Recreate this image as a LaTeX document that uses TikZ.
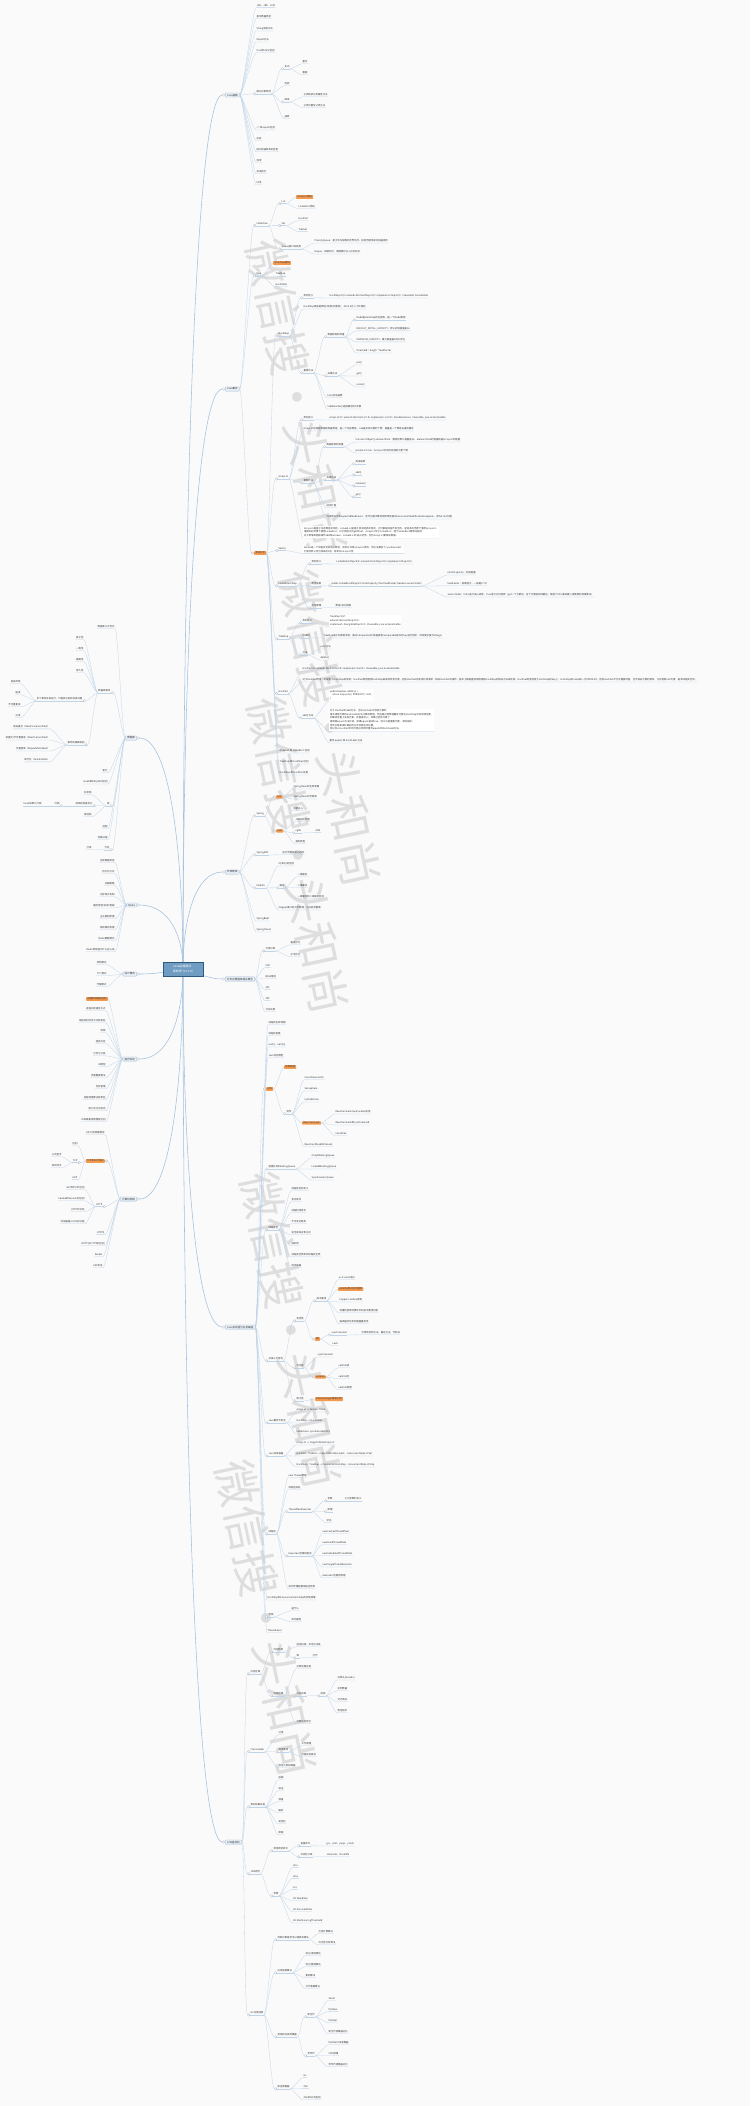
\documentclass[tikz,border=0pt]{standalone}
\usepackage{fontspec}
\setmainfont{Noto Sans CJK SC}
\usetikzlibrary{calc}
\pgfdeclarelayer{back}
\pgfdeclarelayer{lines}
\pgfsetlayers{back,lines,main}
\definecolor{bgc}{HTML}{FAFAFA}
\definecolor{txt}{HTML}{3A3A3A}
\definecolor{lnc}{HTML}{BFD4E8}
\definecolor{trc}{HTML}{A3C1DD}
\definecolor{orc}{HTML}{F49A4E}
\definecolor{bxf}{HTML}{EBF1F7}
\definecolor{bxl}{HTML}{9EBBD6}
\definecolor{cenf}{HTML}{6F9CC2}
\definecolor{cenl}{HTML}{2E5A80}
\definecolor{cic}{HTML}{A8B4C0}
\definecolor{wmc}{HTML}{DEDEDE}
\newcommand\ftx{\fontsize{2.4}{2.9}\selectfont}
\newcommand\fnote{\fontsize{2.4}{3.6}\selectfont}
\newcommand\fbx{\fontsize{2.6}{3.1}\selectfont}
\newcommand\fcen{\fontsize{3}{4.4}\selectfont}
\newcommand\fwm{\fontsize{46}{46}\selectfont}
\tikzset{
 tx/.style={font=\ftx, text=txt, inner xsep=0.4pt, inner ysep=0.5pt, anchor=west},
 txl/.style={tx, anchor=east},
 orn/.style={tx, fill=orc, rounded corners=0.6pt, inner xsep=1.2pt, inner ysep=0.7pt},
 orl/.style={orn, anchor=east},
 nb/.style={tx, fill=white, align=left, inner sep=0.8pt, font=\fnote},
 bx/.style={font=\fbx, text=txt, fill=bxf, draw=bxl, line width=0.3pt, rounded corners=0.8pt, inner xsep=1.8pt, inner ysep=0.9pt},
 cen/.style={font=\fcen, text=white, fill=cenf, draw=cenl, line width=0.6pt, align=left, minimum width=40pt, minimum height=13pt, inner xsep=4pt},
 lnk/.style={draw=lnc, line width=0.3pt},
 trunk/.style={draw=trc, line width=0.55pt},
 cir/.style={draw=cic, fill=white, line width=0.25pt},
 wm/.style={font=\fwm, text=wmc, inner sep=0pt, rotate=-78},
}
% right side connectors
\newcommand\cnR[2]{\draw[lnk] (#1) .. controls +(3,0) and +(-3,0) .. (#2.south west) -- (#2.south east);}
\newcommand\cnRc[2]{\draw[lnk] (#1) .. controls +(3,0) and +(-3,0) .. ([xshift=-2.6pt]#2.south west); \draw[lnk] (#2.south west) -- (#2.south east); \draw[cir] ([xshift=-1.3pt]#2.south west) circle (1.3pt);}
\newcommand\cnRo[2]{\draw[lnk] (#1) .. controls +(3,0) and +(-3,0) .. (#2.west);}
\newcommand\cnRoc[2]{\draw[lnk] (#1) .. controls +(3,0) and +(-3,0) .. ([xshift=-2.6pt]#2.west); \draw[cir] ([xshift=-1.3pt]#2.west) circle (1.3pt);}
% left side connectors
\newcommand\cnL[2]{\draw[lnk] (#1) .. controls +(-3,0) and +(3,0) .. (#2.south east) -- (#2.south west);}
\newcommand\cnLc[2]{\draw[lnk] (#1) .. controls +(-3,0) and +(3,0) .. ([xshift=2.6pt]#2.south east); \draw[lnk] (#2.south east) -- (#2.south west); \draw[cir] ([xshift=1.3pt]#2.south east) circle (1.3pt);}
\newcommand\cnLo[2]{\draw[lnk] (#1) .. controls +(-3,0) and +(3,0) .. (#2.east);}
\newcommand\cnLoc[2]{\draw[lnk] (#1) .. controls +(-3,0) and +(3,0) .. ([xshift=2.6pt]#2.east); \draw[cir] ([xshift=1.3pt]#2.east) circle (1.3pt);}
\newcommand\wmtext{微信搜·头和尚}
\begin{document}
\begin{tikzpicture}[x=1pt,y=-1pt]
\useasboundingbox (0,0) rectangle (750,2106);
\begin{pgfonlayer}{back}
\fill[bgc] (0,0) rectangle (750,2106);
\node[wm] (w1) at (297,397) {\wmtext};
\node[wm] (w2) at (330,728) {\wmtext};
\node[wm] (w3) at (298,855) {\wmtext};
\node[wm] (w4) at (291,1330) {\wmtext};
\node[wm] (w5) at (266,1618) {\wmtext};
\end{pgfonlayer}

% central
\node[cen] (C) at (183,969) {Java后端面试\\架构师 (V1.0.0)};

% first level
\node[bx, anchor=west] (R1) at (225,95) {Java基础};
\node[bx, anchor=west] (R2) at (225,389) {Java集合};
\node[bx, anchor=west] (R3) at (225,872) {开源框架};
\node[bx, anchor=west] (R4) at (225,979) {分布式数据库相关概念};
\node[bx, anchor=west] (R5) at (225,1327) {Java多线程与并发编程};
\node[bx, anchor=west] (R6) at (225,1842) {JVM虚拟机};
\node[bx, anchor=east] (L1) at (137,738) {数据库};
\node[bx, anchor=east] (L2) at (137,905) {Redis};
\node[bx, anchor=east] (L3) at (137,974) {设计模式};
\node[bx, anchor=east] (L4) at (137,1059) {操作系统};
\node[bx, anchor=east] (L5) at (137,1199) {计算机网络};

% R1
\node[tx] (a1) at (256,6) {JDK、JRE、JVM};
\node[tx] (a2) at (256,17) {基本数据类型};
\node[tx] (a3) at (256,29) {String常用方法};
\node[tx] (a4) at (256,40) {Object方法};
\node[tx] (a5) at (256,51) {final和static区别};
\node[tx] (a6) at (256,92) {面向对象特性};
\node[tx] (a61) at (284,67) {多态};
\node[tx] (a611) at (302,62) {重写};
\node[tx] (a612) at (302,73) {重载};
\node[tx] (a62) at (284,84) {封装};
\node[tx] (a63) at (284,100) {继承};
\node[tx] (a631) at (303,95) {子类继承父类属性方法};
\node[tx] (a632) at (303,106) {子类可重写父类方法};
\node[tx] (a64) at (284,117) {抽象};
\node[tx] (a7) at (256,128) {== 和 equals区别};
\node[tx] (a8) at (256,139) {反射};
\node[tx] (a9) at (256,150) {接口和抽象类的区别};
\node[tx] (a10) at (256,161) {异常};
\node[tx] (a11) at (256,172) {深浅拷贝};
\node[tx] (a12) at (256,183) {IO流};

% R2
\node[tx] (b1) at (256,224) {Collection};
\node[tx] (b11) at (281,202) {List};
\node[orn] (b111) at (296,197) {ArrayList源码};
\node[tx] (b112) at (298,207) {LinkedList源码};
\node[tx] (b12) at (281,224) {Set};
\node[tx] (b121) at (298,219) {HashSet};
\node[tx] (b122) at (298,230) {TreeSet};
\node[tx] (b13) at (281,247) {Queue接口实现类};
\node[tx] (b131) at (314,241) {PriorityQueue：基于优先级堆的无界队列，按自然顺序或比较器排序};
\node[tx] (b132) at (314,252) {Deque：双端队列，两端都可以入队和出队};
\node[tx] (b2) at (256,274) {Map};
\node[orn] (b21) at (273,263) {HashMap源码};
\node[tx] (b22) at (275,274) {TreeMap};
\node[tx] (b23) at (275,285) {Hashtable};
\node[orn] (b3) at (254,553) {源码分析};

\node[tx] (c1) at (278,334) {HashMap};
\node[tx] (c11) at (303,296) {类的定义};
\node[tx] (c111) at (329,296) {HashMap<K,V> extends AbstractMap<K,V> implements Map<K,V>, Cloneable, Serializable};
\node[tx] (c12) at (303,307) {HashMap底层是数组+链表(红黑树)，JDK1.8引入了红黑树};
\node[tx] (c13) at (303,371) {重要方法};
\node[tx] (c131) at (327,335) {数据结构和常量};
\node[tx] (c1311) at (356,318) {Node是HashMap的内部类，是一个Node数组};
\node[tx] (c1312) at (356,329) {DEFAULT\_INITIAL\_CAPACITY：默认初始容量是16};
\node[tx] (c1313) at (356,340) {MAXIMUM\_CAPACITY：最大容量是2的30次方};
\node[tx] (c1314) at (356,351) {threshold = length * loadFactor};
\node[tx] (c132) at (327,374) {关键方法};
\node[tx] (c1321) at (356,363) {put()};
\node[tx] (c1322) at (356,374) {get()};
\node[tx] (c1323) at (356,385) {resize()};
\node[tx] (c133) at (327,396) {hash扰动函数};
\node[tx] (c134) at (327,407) {tableSizeFor()返回最近的2次幂};

\node[tx] (c2) at (278,477) {ArrayList};
\node[tx] (c21) at (303,418) {类的定义};
\node[tx] (c211) at (329,418) {ArrayList<E> extends AbstractList<E> implements List<E>, RandomAccess, Cloneable, java.io.Serializable};
\node[tx] (c22) at (303,429) {ArrayList的底层数据结构是数组，是一个动态数组，size是实际元素的个数，容量是一个数组长度的概念};
\node[tx] (c23) at (303,481) {重要方法};
\node[tx] (c231) at (326,445) {数据结构和常量};
\node[tx] (c2311) at (355,440) {transient Object[] elementData：数组的默认容量是10，elementData的容量就是ArrayList的容量};
\node[tx] (c2312) at (355,451) {private int size：ArrayList中实际存储的元素个数};
\node[tx] (c232) at (326,478) {关键方法};
\node[tx] (c2321) at (355,462) {构造函数};
\node[tx] (c2322) at (355,473) {add()};
\node[tx] (c2323) at (355,484) {remove()};
\node[tx] (c2324) at (355,495) {get()};
\node[tx] (c233) at (326,506) {动态扩容};
\node[tx] (c234) at (326,517) {内部类Itr中有expectedModCount，迭代过程中集合被修改会抛出ConcurrentModificationException，即fail-fast机制};
\node[nb] (c24) at (303,532) {ArrayList是基于动态数组实现的，LinkedList是基于双向链表实现的，它们都是线程不安全的，查询多的场景下使用ArrayList，\\增删多的场景下使用LinkedList；对于随机访问get和set，ArrayList优于LinkedList，因为LinkedList要移动指针；\\对于新增和删除操作add和remove，LinkedList比较占优势，因为ArrayList要移动数据。};

\node[tx] (c3) at (278,549) {Vector};
\node[nb] (c31) at (303,549.5) {Vector是一个线程安全的动态数组，实现方式和ArrayList类似，但方法都加了synchronized，\\扩容时默认变为原来的2倍，效率比ArrayList低};

\node[tx] (c4) at (278,584) {LinkedHashMap};
\node[tx] (c41) at (311,562) {类的定义};
\node[tx] (c411) at (336,562) {LinkedHashMap<K,V> extends HashMap<K,V> implements Map<K,V>};
\node[tx] (c42) at (311,584) {构造函数};
\node[tx] (c421) at (331,584) {public LinkedHashMap(int initialCapacity, float loadFactor, boolean accessOrder)};
\node[tx] (c4211) at (447,573) {initialCapacity：初始容量};
\node[tx] (c4212) at (447,584) {loadFactor：加载因子，一般是0.75f};
\node[tx] (c4213) at (447,595) {accessOrder：false 基于插入顺序，true 基于访问顺序（get一个元素后，这个元素被加到最后，使用了LRU 最近最少被使用的调度算法）};
\node[tx] (c43) at (311,606) {实现原理};
\node[tx] (c431) at (335,606) {数组+双向链表};

\node[tx] (c5) at (278,637) {TreeMap};
\node[tx] (c51) at (302,621) {类的定义};
\node[nb] (c511) at (329,621) {TreeMap<K,V>\\extends AbstractMap<K,V>\\implements NavigableMap<K,V>, Cloneable, java.io.Serializable};
\node[tx] (c52) at (302,636) {红黑树};
\node[tx] (c521) at (323,636) {TreeMap基于红黑树实现，通过Comparator比较器或者Comparable接口对key进行排序，时间复杂度为O(logn)};
\node[tx] (c53) at (302,653) {方法};
\node[tx] (c531) at (320,647) {put()方法};
\node[tx] (c532) at (320,658) {delete()};

\node[tx] (c6) at (278,692) {HashSet};
\node[tx] (c61) at (302,669) {HashSet<E> extends AbstractSet<E> implements Set<E>, Cloneable, java.io.Serializable};
\node[tx] (c62) at (302,680) {对于HashSet而言，它是基于HashMap实现的，HashSet底层使用HashMap来保存所有元素，因此HashSet的实现比较简单，相关HashSet的操作，基本上都是直接调用底层HashMap的相关方法来完成。HashSet的值存放于HashMap的key上，HashMap的value统一为PRESENT，因此HashSet不允许重复的值，也不保证元素的顺序，允许使用null元素，是非线程安全的。};
\node[tx] (c63) at (302,716) {add()方法};
\node[nb] (c631) at (329,695) {public boolean add(E e) \{\\\quad return map.put(e, PRESENT)==null;\\\}};
\node[nb] (c632) at (329,720) {对于HashSet的add方法，当向HashSet中添加元素时，\\首先调用元素的hashCode方法计算哈希值，然后通过哈希值确定元素在HashMap中的存储位置，\\如果该位置上没有元素，则直接存入；如果已经有元素了，\\再调用equals方法比较，如果equals返回true，则认为是重复元素，添加失败；\\否则以链表或红黑树的方式存储在该位置，\\所以存入HashSet中的元素必须同时重写equals和hashCode方法。};
\node[tx] (c633) at (329,741) {重写 equals 和 hashCode 方法};
\node[tx] (c7) at (279,751) {ArrayList 和 LinkedList 区别};
\node[tx] (c8) at (279,762) {TreeMap 和 HashMap 区别};
\node[tx] (c9) at (279,773) {HashMap 和 HashSet 区别};

% R3
\node[tx] (d1) at (256,814) {Spring};
\node[orn] (d11) at (276,797) {IOC};
\node[tx] (d111) at (293,787) {Spring Bean的生命周期};
\node[tx] (d112) at (293,797) {Spring Bean的作用域};
\node[tx] (d113) at (293,809) {依赖注入};
\node[orn] (d12) at (276,831) {AOP};
\node[tx] (d121) at (295,820) {JDK动态代理};
\node[tx] (d122) at (295,831) {cglib};
\node[tx] (d1221) at (315,831) {ASM};
\node[tx] (d123) at (295,842) {通知类型};
\node[tx] (d2) at (256,853) {SpringMVC};
\node[tx] (d21) at (282,853) {执行流程及核心组件};
\node[tx] (d3) at (256,886) {Mybatis};
\node[tx] (d31) at (278,864) {\#\{\}和\$\{\}的区别};
\node[tx] (d32) at (279,886) {缓存};
\node[tx] (d321) at (297,875) {一级缓存};
\node[tx] (d322) at (297,886) {二级缓存};
\node[tx] (d323) at (297,897) {一级缓存和二级缓存区别};
\node[tx] (d33) at (278,908) {Mapper接口的工作原理，方法能否重载};
\node[tx] (d4) at (256,919) {SpringBoot};
\node[tx] (d5) at (256,930) {SpringCloud};

% R4
\node[tx] (e1) at (265,949) {分库分表};
\node[tx] (e11) at (290,943) {垂直拆分};
\node[tx] (e12) at (290,955) {水平拆分};
\node[tx] (e2) at (265,966) {CAP};
\node[tx] (e3) at (265,977) {BASE理论};
\node[tx] (e4) at (265,988) {2PC};
\node[tx] (e5) at (265,999) {3PC};
\node[tx] (e6) at (265,1010) {分布式锁};

% R5
\node[tx] (f1) at (268,1023) {线程的生命周期};
\node[tx] (f2) at (268,1034) {线程的创建};
\node[tx] (f3) at (268,1045) {wait()、notify()};
\node[tx] (f4) at (268,1056) {Java内存模型};
\node[orn] (f5) at (266,1089) {AQS};
\node[orn] (f51) at (284,1067) {实现原理};
\node[tx] (f52) at (286,1112) {组件};
\node[tx] (f521) at (304,1078) {CountDownLatch};
\node[tx] (f522) at (304,1089) {Semaphore};
\node[tx] (f523) at (304,1100) {CyclicBarrier};
\node[orn] (f524) at (302,1123) {ReentrantLock};
\node[tx] (f5241) at (335,1112) {ReentrantLock lock/unlock实现};
\node[tx] (f5242) at (335,1123) {ReentrantLock和synchronized};
\node[tx] (f5243) at (335,1134) {Condition};
\node[tx] (f525) at (304,1145) {ReentrantReadWriteLock};
\node[tx] (f6) at (268,1167) {阻塞队列BlockingQueue};
\node[tx] (f61) at (311,1156) {ArrayBlockingQueue};
\node[tx] (f62) at (311,1167) {LinkedBlockingQueue};
\node[tx] (f63) at (311,1178) {SynchronousQueue};
\node[tx] (f7) at (268,1228) {线程安全};
\node[tx] (f71) at (291,1189) {线程安全的定义};
\node[tx] (f72) at (291,1200) {竞态条件};
\node[tx] (f73) at (291,1211) {线程封闭技术};
\node[tx] (f74) at (291,1222) {不可变对象类};
\node[tx] (f75) at (291,1233) {安全发布对象方式};
\node[tx] (f76) at (291,1244) {栈封闭};
\node[tx] (f77) at (291,1255) {线程安全类和非线程安全类};
\node[tx] (f78) at (291,1266) {同步容器};
\node[tx] (f8) at (268,1359) {并发三大特性};
\node[tx] (f81) at (296,1319) {有序性};
\node[tx] (f811) at (316,1299) {指令重排};
\node[tx] (f8111) at (338,1278) {as-if-serial语义};
\node[orn] (f8112) at (338,1289) {volatile禁止指令重排};
\node[tx] (f8113) at (339,1300) {happens-before原则};
\node[tx] (f8114) at (339,1311) {双重检查单例模式中的指令重排问题};
\node[tx] (f8115) at (339,1322) {编译器优化和处理器重排序};
\node[orn] (f812) at (315,1339) {锁};
\node[tx] (f8121) at (331,1333) {synchronized};
\node[tx] (f81211) at (361,1333) {可修饰实例方法、静态方法、代码块};
\node[tx] (f8122) at (332,1344) {Lock};
\node[tx] (f82) at (296,1366) {可见性};
\node[tx] (f821) at (317,1355) {synchronized};
\node[orn] (f822) at (315,1377) {volatile};
\node[tx] (f8221) at (338,1366) {volatile读};
\node[tx] (f8222) at (338,1377) {volatile写};
\node[tx] (f8223) at (338,1388) {volatile原理};
\node[tx] (f83) at (296,1399) {原子性};
\node[orn] (f831) at (315,1399) {AtomicInteger等原子类};
\node[tx] (f9) at (268,1421) {Java集合不安全};
\node[tx] (f91) at (296,1410) {ArrayList → Vector、Stack};
\node[tx] (f92) at (296,1421) {HashMap → Hashtable};
\node[tx] (f93) at (296,1432) {Collections.synchronizedXXX()};
\node[tx] (f10) at (268,1454) {Java并发容器};
\node[tx] (f101) at (296,1443) {ArrayList → CopyOnWriteArrayList};
\node[tx] (f102) at (296,1454) {HashSet、TreeSet → CopyOnWriteArraySet、ConcurrentSkipListSet};
\node[tx] (f103) at (296,1465) {HashMap、TreeMap → ConcurrentHashMap、ConcurrentSkipListMap};
\node[tx] (f11) at (268,1532) {线程池};
\node[tx] (f111) at (288,1476) {new Thread弊端};
\node[tx] (f112) at (288,1488) {线程池好处};
\node[tx] (f113) at (288,1510) {ThreadPoolExecutor};
\node[tx] (f1131) at (327,1499) {参数};
\node[tx] (f11311) at (344,1499) {七大参数的含义};
\node[tx] (f1132) at (327,1510) {原理};
\node[tx] (f1133) at (326,1521) {状态};
\node[tx] (f114) at (288,1554) {Executors创建线程池};
\node[tx] (f1141) at (322,1532) {newCachedThreadPool};
\node[tx] (f1142) at (322,1543) {newFixedThreadPool};
\node[tx] (f1143) at (322,1554) {newScheduledThreadPool};
\node[tx] (f1144) at (322,1565) {newSingleThreadExecutor};
\node[tx] (f1145) at (322,1576) {Executors创建的弊端};
\node[tx] (f115) at (288,1587) {如何合理配置线程池参数};
\node[tx] (f12) at (267,1598) {HashMap和ConcurrentHashMap的实现原理};
\node[tx] (f13) at (268,1615) {死锁};
\node[tx] (f131) at (291,1609) {是什么};
\node[tx] (f132) at (291,1620) {如何避免};
\node[tx] (f14) at (267,1631) {ThreadLocal};

% R6
\node[tx] (g1) at (250,1672) {内存区域};
\node[tx] (g11) at (273,1650) {内存结构};
\node[tx] (g111) at (296,1645) {虚拟机栈、本地方法栈};
\node[tx] (g112) at (296,1656) {堆};
\node[tx] (g1121) at (312,1656) {分代};
\node[tx] (g12) at (273,1694) {对象创建};
\node[tx] (g121) at (296,1667) {对象创建过程};
\node[tx] (g122) at (296,1694) {内存布局};
\node[tx] (g1221) at (320,1694) {组成};
\node[tx] (g12211) at (337,1678) {对象头(Header)};
\node[tx] (g12212) at (337,1689) {实例数据};
\node[tx] (g12213) at (337,1700) {对齐填充};
\node[tx] (g12214) at (337,1711) {类型指针};
\node[tx] (g123) at (296,1722) {对象访问定位};
\node[tx] (g2) at (250,1750) {ClassLoader};
\node[tx] (g21) at (278,1733) {分类};
\node[tx] (g22) at (278,1750) {双亲委派};
\node[tx] (g221) at (301,1744) {工作原理};
\node[tx] (g222) at (301,1755) {打破双亲委派};
\node[tx] (g23) at (278,1766) {自定义类加载器};
\node[tx] (g3) at (250,1805) {类的加载过程};
\node[tx] (g31) at (278,1778) {加载};
\node[tx] (g32) at (278,1789) {验证};
\node[tx] (g33) at (278,1800) {准备};
\node[tx] (g34) at (278,1811) {解析};
\node[tx] (g35) at (278,1822) {初始化};
\node[tx] (g36) at (278,1833) {卸载};
\node[tx] (g4) at (250,1872) {JVM调优};
\node[tx] (g41) at (273,1849) {常用调优命令};
\node[tx] (g411) at (300,1844) {查看命令};
\node[tx] (g4111) at (326,1844) {jps、jstat、jmap、jstack};
\node[tx] (g412) at (300,1855) {可视化工具};
\node[tx] (g4121) at (326,1855) {JConsole、VisualVM};
\node[tx] (g42) at (273,1894) {参数};
\node[tx] (g421) at (292,1866) {-Xms};
\node[tx] (g422) at (292,1877) {-Xmx};
\node[tx] (g423) at (292,1888) {-Xss};
\node[tx] (g424) at (292,1899) {-XX:NewRatio};
\node[tx] (g425) at (292,1910) {-XX:SurvivorRatio};
\node[tx] (g426) at (292,1921) {-XX:MaxTenuringThreshold};
\node[tx] (g5) at (250,2013) {GC垃圾回收};
\node[tx] (g51) at (277,1938) {判断对象是否可以回收的算法};
\node[tx] (g511) at (318,1932) {引用计数算法};
\node[tx] (g512) at (318,1943) {可达性分析算法};
\node[tx] (g52) at (277,1971) {垃圾回收算法};
\node[tx] (g521) at (305,1954) {标记-清除算法};
\node[tx] (g522) at (305,1965) {标记-整理算法};
\node[tx] (g523) at (305,1976) {复制算法};
\node[tx] (g524) at (305,1987) {分代收集算法};
\node[tx] (g53) at (277,2035) {常用的垃圾收集器};
\node[tx] (g531) at (307,2015) {新生代};
\node[tx] (g5311) at (328,1999) {Serial};
\node[tx] (g5312) at (328,2010) {ParNew};
\node[tx] (g5313) at (328,2021) {Parallel};
\node[tx] (g5314) at (328,2032) {新生代收集器对比};
\node[tx] (g532) at (307,2054) {老年代};
\node[tx] (g5321) at (328,2043) {Parallel Old收集器};
\node[tx] (g5322) at (328,2054) {CMS原理};
\node[tx] (g5323) at (328,2065) {老年代收集器对比};
\node[tx] (g54) at (277,2087) {新型收集器};
\node[tx] (g541) at (303,2076) {G1};
\node[tx] (g542) at (303,2087) {ZGC};
\node[tx] (g543) at (303,2098) {ZGC和G1的区别};

% L1
\node[txl] (h1) at (115,627) {数据库三大范式};
\node[txl] (h2) at (111,691) {数据库事务};
\node[txl] (h21) at (84,638) {原子性};
\node[txl] (h22) at (84,649) {一致性};
\node[txl] (h23) at (84,660) {隔离性};
\node[txl] (h24) at (84,671) {持久性};
\node[txl] (h25) at (83,699) {多个事务并发运行，可能会引起的并发问题};
\node[txl] (h251) at (21,682) {丢失修改};
\node[txl] (h252) at (21,693) {脏读};
\node[txl] (h253) at (21,705) {不可重复读};
\node[txl] (h254) at (21,716) {幻读};
\node[txl] (h26) at (85,743) {事务的隔离级别};
\node[txl] (h261) at (50,727) {读未提交（Read Uncommitted）};
\node[txl] (h262) at (50,738) {读提交/不可重复读（Read Committed）};
\node[txl] (h263) at (50,749) {可重复读（Repeatable Read）};
\node[txl] (h264) at (50,760) {串行化（Serializable）};
\node[txl] (h3) at (108,771) {索引};
\node[txl] (h4) at (108,782) {InnoDB和MyISAM区别};
\node[txl] (h5) at (110,804) {锁};
\node[txl] (h51) at (92,793) {共享锁};
\node[txl] (h52) at (93,804) {按锁的粒度划分};
\node[txl] (h521) at (60,804) {行锁};
\node[txl] (h5211) at (42,804) {InnoDB默认行锁};
\node[txl] (h53) at (92,815) {排他锁};
\node[txl] (h6) at (108,827) {视图};
\node[txl] (h7) at (108,838) {存储过程};
\node[txl] (h8) at (110,848) {分区};
\node[txl] (h81) at (92,848) {分库};

% L2
\node[txl] (i1) at (115,861) {五种数据类型};
\node[txl] (i2) at (115,872) {持久化方式};
\node[txl] (i3) at (115,884) {过期策略};
\node[txl] (i4) at (115,895) {内存淘汰机制};
\node[txl] (i5) at (115,906) {缓存穿透/击穿/雪崩};
\node[txl] (i6) at (115,917) {主从复制原理};
\node[txl] (i7) at (115,928) {哨兵模式原理};
\node[txl] (i8) at (115,939) {Redis集群模式};
\node[txl] (i9) at (115,950) {Redis单线程为什么这么快};

% L3
\node[txl] (j1) at (107,963) {单例模式};
\node[txl] (j2) at (107,974) {工厂模式};
\node[txl] (j3) at (107,985) {代理模式};

% L4
\node[orl] (k1) at (108,999) {进程和线程的区别};
\node[txl] (k2) at (106,1009) {进程间的通信方式};
\node[txl] (k3) at (106,1021) {线程间的同步方式有哪些};
\node[txl] (k4) at (106,1031) {死锁};
\node[txl] (k5) at (106,1042) {虚拟内存};
\node[txl] (k6) at (106,1054) {分页与分段};
\node[txl] (k7) at (106,1065) {IO模型};
\node[txl] (k8) at (106,1076) {页面置换算法};
\node[txl] (k9) at (106,1087) {内存管理};
\node[txl] (k10) at (106,1098) {进程调度算法有哪些};
\node[txl] (k11) at (106,1109) {用户态与内核态};
\node[txl] (k12) at (106,1120) {IO多路复用原理及区别};

% L5
\node[txl] (m1) at (105,1133) {OSI七层网络模型};
\node[orl] (m2) at (105,1161) {TCP和UDP协议};
\node[txl] (m21) at (78,1144) {区别};
\node[txl] (m22) at (78,1161) {TCP};
\node[txl] (m221) at (62,1155) {三次握手};
\node[txl] (m222) at (62,1166) {四次挥手};
\node[txl] (m23) at (78,1178) {UDP};
\node[txl] (m3) at (103,1205) {HTTP};
\node[txl] (m31) at (85,1188) {GET和POST区别};
\node[txl] (m32) at (85,1199) {Cookie和Session的区别};
\node[txl] (m33) at (85,1210) {HTTP状态码};
\node[txl] (m34) at (85,1222) {浏览器输入URL的过程};
\node[txl] (m4) at (105,1233) {HTTPS};
\node[txl] (m5) at (105,1244) {HTTP与HTTPS的区别};
\node[txl] (m6) at (103,1255) {Socket};
\node[txl] (m7) at (103,1266) {XSS攻击};

\begin{pgfonlayer}{lines}
% trunks
\draw[trunk] (C.center) .. controls (183,532) and (195,95) .. ([xshift=-2.7pt]R1.west);
\draw[trunk] (C.center) .. controls (183,679) and (195,389) .. ([xshift=-2.7pt]R2.west);
\draw[trunk] (C.center) .. controls (183,920) and (195,872) .. ([xshift=-2.7pt]R3.west);
\draw[trunk] (C.center) .. controls (200,974) and (210,979) .. ([xshift=-2.7pt]R4.west);
\draw[trunk] (C.center) .. controls (183,1148) and (195,1327) .. ([xshift=-2.7pt]R5.west);
\draw[trunk] (C.center) .. controls (183,1405) and (195,1842) .. ([xshift=-2.7pt]R6.west);
\draw[trunk] (C.center) .. controls (183,853) and (170,738) .. ([xshift=2.7pt]L1.east);
\draw[trunk] (C.center) .. controls (183,937) and (170,905) .. ([xshift=2.7pt]L2.east);
\draw[trunk] (C.center) .. controls (170,971) and (158,974) .. ([xshift=2.7pt]L3.east);
\draw[trunk] (C.center) .. controls (183,1014) and (170,1059) .. ([xshift=2.7pt]L4.east);
\draw[trunk] (C.center) .. controls (183,1084) and (170,1199) .. ([xshift=2.7pt]L5.east);
\foreach \n in {R1,R2,R3,R4,R5,R6} {\draw[cir] ([xshift=-1.5pt]\n.west) circle (1.2pt);}
\foreach \n in {L1,L2,L3,L4,L5} {\draw[cir] ([xshift=1.5pt]\n.east) circle (1.2pt);}

% R1
\foreach \n in {a1,a2,a3,a4,a5,a7,a8,a9,a10,a11,a12} {\cnR{R1.east}{\n}}
\cnRc{R1.east}{a6}
\cnRc{a6.south east}{a61} \cnR{a61.south east}{a611} \cnR{a61.south east}{a612}
\cnR{a6.south east}{a62}
\cnRc{a6.south east}{a63} \cnR{a63.south east}{a631} \cnR{a63.south east}{a632}
\cnR{a6.south east}{a64}

% R2
\cnRc{R2.east}{b1} \cnRc{R2.east}{b2} \cnRoc{R2.east}{b3}
\cnRc{b1.south east}{b11} \cnRo{b11.south east}{b111} \cnR{b11.south east}{b112}
\cnRc{b1.south east}{b12} \cnR{b12.south east}{b121} \cnR{b12.south east}{b122}
\cnRc{b1.south east}{b13} \cnR{b13.south east}{b131} \cnR{b13.south east}{b132}
\cnRo{b2.south east}{b21} \cnR{b2.south east}{b22} \cnR{b2.south east}{b23}
\foreach \n in {c1,c2,c3,c4,c5,c6} {\cnRc{b3.east}{\n}}
\foreach \n in {c7,c8,c9} {\cnR{b3.east}{\n}}
\cnRc{c1.south east}{c11} \cnR{c11.south east}{c111}
\cnR{c1.south east}{c12}
\cnRc{c1.south east}{c13}
\cnRc{c13.south east}{c131}
\cnRc{c131.south east}{c1311} \cnR{c131.south east}{c1312} \cnR{c131.south east}{c1313} \cnR{c131.south east}{c1314}
\cnRc{c13.south east}{c132}
\cnR{c132.south east}{c1321} \cnR{c132.south east}{c1322} \cnR{c132.south east}{c1323}
\cnR{c13.south east}{c133} \cnR{c13.south east}{c134}
\cnRc{c2.south east}{c21} \cnR{c21.south east}{c211}
\cnR{c2.south east}{c22}
\cnRc{c2.south east}{c23}
\cnRc{c23.south east}{c231} \cnR{c231.south east}{c2311} \cnR{c231.south east}{c2312}
\cnRc{c23.south east}{c232}
\foreach \n in {c2321,c2322,c2323,c2324} {\cnRc{c232.south east}{\n}}
\cnR{c23.south east}{c233} \cnR{c23.south east}{c234}
\cnR{c2.south east}{c24}
\cnR{c3.south east}{c31}
\cnRc{c4.south east}{c41} \cnR{c41.south east}{c411}
\cnRc{c4.south east}{c42} \cnRc{c42.south east}{c421}
\cnR{c421.south east}{c4211} \cnR{c421.south east}{c4212} \cnR{c421.south east}{c4213}
\cnRc{c4.south east}{c43} \cnR{c43.south east}{c431}
\cnRc{c5.south east}{c51} \cnR{c51.south east}{c511}
\cnRc{c5.south east}{c52} \cnR{c52.south east}{c521}
\cnRc{c5.south east}{c53} \cnR{c53.south east}{c531} \cnR{c53.south east}{c532}
\cnR{c6.south east}{c61} \cnR{c6.south east}{c62}
\cnRc{c6.south east}{c63}
\cnR{c63.south east}{c631} \cnR{c63.south east}{c632} \cnR{c63.south east}{c633}

% R3
\cnRc{R3.east}{d1} \cnRc{R3.east}{d2} \cnRc{R3.east}{d3} \cnR{R3.east}{d4} \cnR{R3.east}{d5}
\cnRoc{d1.south east}{d11}
\cnR{d11.east}{d111} \cnR{d11.east}{d112} \cnR{d11.east}{d113}
\cnRoc{d1.south east}{d12}
\cnR{d12.east}{d121} \cnRc{d12.east}{d122} \cnR{d122.south east}{d1221} \cnR{d12.east}{d123}
\cnR{d2.south east}{d21}
\cnR{d3.south east}{d31} \cnRc{d3.south east}{d32} \cnR{d3.south east}{d33}
\cnR{d32.south east}{d321} \cnR{d32.south east}{d322} \cnR{d32.south east}{d323}

% R4
\cnRc{R4.east}{e1} \cnR{e1.south east}{e11} \cnR{e1.south east}{e12}
\foreach \n in {e2,e3,e4,e5,e6} {\cnR{R4.east}{\n}}

% R5
\foreach \n in {f1,f2,f3,f4,f12,f14} {\cnR{R5.east}{\n}}
\cnRoc{R5.east}{f5}
\cnRo{f5.east}{f51}
\cnRc{f5.east}{f52}
\foreach \n in {f521,f522,f523,f525} {\cnR{f52.south east}{\n}}
\cnRo{f52.south east}{f524}
\cnR{f524.east}{f5241} \cnR{f524.east}{f5242} \cnR{f524.east}{f5243}
\cnRc{R5.east}{f6}
\foreach \n in {f61,f62,f63} {\cnR{f6.south east}{\n}}
\cnRc{R5.east}{f7}
\foreach \n in {f71,f72,f73,f74,f75,f76,f77,f78} {\cnR{f7.south east}{\n}}
\cnRc{R5.east}{f8}
\cnRc{f8.south east}{f81}
\cnRc{f81.south east}{f811}
\cnR{f811.south east}{f8111} \cnRo{f811.south east}{f8112} \cnR{f811.south east}{f8113} \cnR{f811.south east}{f8114} \cnR{f811.south east}{f8115}
\cnRoc{f81.south east}{f812}
\cnRc{f812.east}{f8121} \cnR{f8121.south east}{f81211} \cnR{f812.east}{f8122}
\cnRc{f8.south east}{f82}
\cnR{f82.south east}{f821}
\cnRoc{f82.south east}{f822}
\cnR{f822.east}{f8221} \cnR{f822.east}{f8222} \cnR{f822.east}{f8223}
\cnRc{f8.south east}{f83} \cnRo{f83.south east}{f831}
\cnRc{R5.east}{f9}
\foreach \n in {f91,f92,f93} {\cnR{f9.south east}{\n}}
\cnRc{R5.east}{f10}
\foreach \n in {f101,f102,f103} {\cnR{f10.south east}{\n}}
\cnRc{R5.east}{f11}
\cnR{f11.south east}{f111} \cnR{f11.south east}{f112} \cnR{f11.south east}{f115}
\cnRc{f11.south east}{f113}
\cnRc{f113.south east}{f1131} \cnR{f1131.south east}{f11311}
\cnRc{f113.south east}{f1132} \cnR{f113.south east}{f1133}
\cnRc{f11.south east}{f114}
\foreach \n in {f1141,f1142,f1143,f1144,f1145} {\cnR{f114.south east}{\n}}
\cnRc{R5.east}{f13} \cnR{f13.south east}{f131} \cnR{f13.south east}{f132}

% R6
\foreach \n in {g1,g2,g3,g4,g5} {\cnRc{R6.east}{\n}}
\cnRc{g1.south east}{g11} \cnR{g11.south east}{g111}
\cnRc{g11.south east}{g112} \cnR{g112.south east}{g1121}
\cnRc{g1.south east}{g12} \cnR{g12.south east}{g121} \cnR{g12.south east}{g123}
\cnRc{g12.south east}{g122} \cnRc{g122.south east}{g1221}
\foreach \n in {g12211,g12212,g12213,g12214} {\cnR{g1221.south east}{\n}}
\cnR{g2.south east}{g21} \cnRc{g2.south east}{g22} \cnR{g2.south east}{g23}
\cnR{g22.south east}{g221} \cnR{g22.south east}{g222}
\foreach \n in {g31,g32,g33,g34,g35,g36} {\cnR{g3.south east}{\n}}
\cnRc{g4.south east}{g41}
\cnRc{g41.south east}{g411} \cnR{g411.south east}{g4111}
\cnRc{g41.south east}{g412} \cnR{g412.south east}{g4121}
\cnRc{g4.south east}{g42}
\foreach \n in {g421,g422,g423,g424,g425,g426} {\cnR{g42.south east}{\n}}
\cnRc{g5.south east}{g51} \cnR{g51.south east}{g511} \cnR{g51.south east}{g512}
\cnRc{g5.south east}{g52}
\foreach \n in {g521,g522,g523,g524} {\cnR{g52.south east}{\n}}
\cnRc{g5.south east}{g53}
\cnRc{g53.south east}{g531}
\foreach \n in {g5311,g5312,g5313,g5314} {\cnR{g531.south east}{\n}}
\cnRc{g53.south east}{g532}
\foreach \n in {g5321,g5322,g5323} {\cnR{g532.south east}{\n}}
\cnRc{g5.south east}{g54}
\foreach \n in {g541,g542,g543} {\cnR{g54.south east}{\n}}

% L1
\foreach \n in {h1,h3,h4,h6,h7} {\cnL{L1.west}{\n}}
\cnLc{L1.west}{h2} \cnLc{L1.west}{h5} \cnLc{L1.west}{h8}
\foreach \n in {h21,h22,h23,h24} {\cnL{h2.south west}{\n}}
\cnLc{h2.south west}{h25}
\foreach \n in {h251,h252,h253,h254} {\cnL{h25.south west}{\n}}
\cnLc{h2.south west}{h26}
\foreach \n in {h261,h262,h263,h264} {\cnL{h26.south west}{\n}}
\cnL{h5.south west}{h51} \cnLc{h5.south west}{h52} \cnL{h5.south west}{h53}
\cnLc{h52.south west}{h521} \cnL{h521.south west}{h5211}
\cnL{h8.south west}{h81}
% L2, L3
\foreach \n in {i1,i2,i3,i4,i5,i6,i7,i8,i9} {\cnL{L2.west}{\n}}
\foreach \n in {j1,j2,j3} {\cnL{L3.west}{\n}}
% L4
\cnLo{L4.west}{k1}
\foreach \n in {k2,k3,k4,k5,k6,k7,k8,k9,k10,k11,k12} {\cnL{L4.west}{\n}}
% L5
\foreach \n in {m1,m4,m5,m6,m7} {\cnL{L5.west}{\n}}
\cnLoc{L5.west}{m2}
\cnL{m2.west}{m21} \cnLc{m2.west}{m22} \cnL{m2.west}{m23}
\cnL{m22.south west}{m221} \cnL{m22.south west}{m222}
\cnLc{L5.west}{m3}
\foreach \n in {m31,m32,m33,m34} {\cnL{m3.south west}{\n}}
\end{pgfonlayer}
\end{tikzpicture}
\end{document}
